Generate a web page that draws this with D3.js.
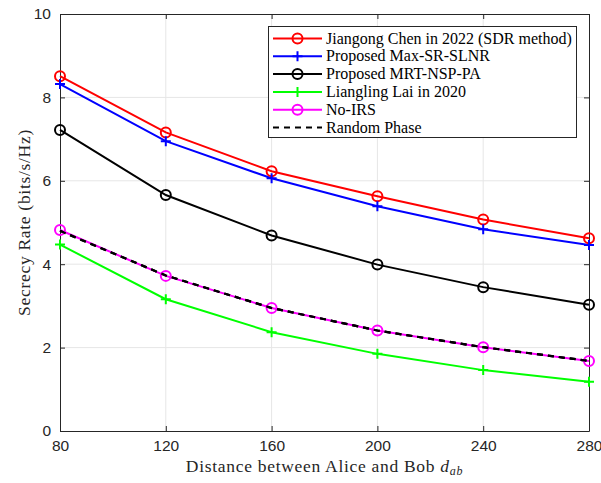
<!DOCTYPE html>
<html>
<head>
<script src="https://d3js.org/d3.v7.min.js"></script>
<style>
  body { margin: 0; background: white; }
  svg { display: block; }
</style>
</head>
<body>
<svg id="chart" width="601" height="483"></svg>
<script>
// distances between Alice and Bob
var distances = [80, 120, 160, 200, 240, 280];

// secrecy rate of each scheme (bits/s/Hz)
var chen2022   = [8.51, 7.16, 6.23, 5.63, 5.07, 4.62];
var maxSrSlnr  = [8.32, 6.95, 6.06, 5.39, 4.84, 4.46];
var mrtNspPa   = [7.22, 5.66, 4.69, 3.99, 3.45, 3.03];
var lai2020    = [4.47, 3.16, 2.37, 1.85, 1.46, 1.18];
var noIrs      = [4.82, 3.72, 2.95, 2.41, 2.01, 1.68];
var randPhase  = [4.80, 3.73, 2.95, 2.41, 2.01, 1.68];

var xTicks = [80, 120, 160, 200, 240, 280];
var yTicks = [0, 2, 4, 6, 8, 10];

var series = [
  {name: "Jiangong Chen in 2022 (SDR method)", values: chen2022, color: "#ff0000", marker: "o", dash: null},
  {name: "Proposed Max-SR-SLNR", values: maxSrSlnr, color: "#0000ff", marker: "+", dash: null},
  {name: "Proposed MRT-NSP-PA", values: mrtNspPa, color: "#000000", marker: "o", dash: null},
  {name: "Liangling Lai in 2020", values: lai2020, color: "#00ff00", marker: "+", dash: null},
  {name: "No-IRS", values: noIrs, color: "#ff00ff", marker: "o", dash: null},
  {name: "Random Phase", values: randPhase, color: "#000000", marker: null, dash: "6,5"}
];

var pLeft = 60, pRight = 589, pTop = 14, pBottom = 431;
var svg = d3.select("#chart");

var x = d3.scaleLinear().domain([80, 280]).range([pLeft, pRight]);
var y = d3.scaleLinear().domain([0, 10]).range([pBottom, pTop]);

// grid
svg.append("g").selectAll("line").data(xTicks.slice(1, -1)).enter().append("line")
  .attr("x1", d => x(d)).attr("x2", d => x(d))
  .attr("y1", pTop).attr("y2", pBottom)
  .style("stroke", "#e6e6e6").style("stroke-width", 1);
svg.append("g").selectAll("line").data(yTicks.slice(1, -1)).enter().append("line")
  .attr("x1", pLeft).attr("x2", pRight)
  .attr("y1", d => y(d)).attr("y2", d => y(d))
  .style("stroke", "#e6e6e6").style("stroke-width", 1);

// axes (ticks inward, box)
var tickFont = "'Liberation Sans', Arial, sans-serif";
var gx = svg.append("g").attr("transform", "translate(0," + pBottom + ")")
  .call(d3.axisBottom(x).tickValues(xTicks).tickSizeInner(-5).tickSizeOuter(0).tickPadding(9));
var gxTop = svg.append("g").attr("transform", "translate(0," + pTop + ")")
  .call(d3.axisTop(x).tickValues(xTicks).tickSizeInner(-5).tickSizeOuter(0).tickFormat(""));
var gy = svg.append("g").attr("transform", "translate(" + pLeft + ",0)")
  .call(d3.axisLeft(y).tickValues(yTicks).tickSizeInner(-5).tickSizeOuter(0).tickPadding(9));
var gyRight = svg.append("g").attr("transform", "translate(" + pRight + ",0)")
  .call(d3.axisRight(y).tickValues(yTicks).tickSizeInner(-5).tickSizeOuter(0).tickFormat(""));

[gx, gxTop, gy, gyRight].forEach(function(g) {
  g.selectAll("path").style("stroke", "#262626").style("stroke-width", 1);
  g.selectAll("line").style("stroke", "#262626").style("stroke-width", 1);
  g.selectAll("text").style("font-family", tickFont).style("font-size", "15.5px").style("fill", "#262626");
});

// lines
var line = d3.line().x((d, i) => x(distances[i])).y(d => y(d));

series.forEach(function(s) {
  svg.append("path").datum(s.values)
    .attr("d", line)
    .style("fill", "none")
    .style("stroke", s.color)
    .style("stroke-width", s.dash ? 2.2 : 2)
    .style("stroke-dasharray", s.dash);
});

function drawMarker(g, cx, cy, s) {
  if (s.marker === "o") {
    g.append("circle").attr("cx", cx).attr("cy", cy).attr("r", 5)
      .style("fill", "none").style("stroke", s.color).style("stroke-width", 2);
  } else if (s.marker === "+") {
    g.append("path").attr("d", "M" + (cx - 5) + "," + cy + "H" + (cx + 5) + "M" + cx + "," + (cy - 5) + "V" + (cy + 5))
      .style("stroke", s.color).style("stroke-width", 2);
  }
}

series.forEach(function(s) {
  var g = svg.append("g");
  s.values.forEach(function(v, i) { drawMarker(g, x(distances[i]), y(v), s); });
});

// dashed random phase on top of magenta
svg.append("path").datum(randPhase)
  .attr("d", line).style("fill", "none").style("stroke", "#000")
  .style("stroke-width", 2.2).style("stroke-dasharray", "6,5");

// axis titles
var serif = "'Liberation Serif', 'Times New Roman', serif";
svg.append("text")
  .attr("x", (pLeft + pRight) / 2).attr("y", 472)
  .attr("text-anchor", "middle")
  .style("font-family", serif).style("font-size", "17.5px").style("letter-spacing", "0.7px").style("fill", "#262626")
  .html("Distance between Alice and Bob <tspan font-style='italic'>d</tspan><tspan font-style='italic' font-size='12px' dy='3'>ab</tspan>");

svg.append("text")
  .attr("transform", "translate(30," + ((pTop + pBottom) / 2) + ") rotate(-90)")
  .attr("text-anchor", "middle")
  .style("font-family", serif).style("font-size", "17.5px").style("letter-spacing", "0.7px").style("fill", "#262626")
  .text("Secrecy Rate (bits/s/Hz)");

// legend
var lg = svg.append("g");
lg.append("rect").attr("x", 268.5).attr("y", 26.5).attr("width", 308).attr("height", 111)
  .style("fill", "white").style("stroke", "#262626").style("stroke-width", 1);

series.forEach(function(s, i) {
  var ly = 38.5 + i * 17.8;
  lg.append("line").attr("x1", 273).attr("x2", 322).attr("y1", ly).attr("y2", ly)
    .style("stroke", s.color).style("stroke-width", 2).style("stroke-dasharray", s.dash ? "6,5" : null);
  drawMarker(lg, 297.5, ly, s);
  lg.append("text").attr("x", 326).attr("y", ly + 5)
    .style("font-family", serif).style("font-size", "16px").style("fill", "#000")
    .text(s.name);
});
</script>
</body>
</html>
